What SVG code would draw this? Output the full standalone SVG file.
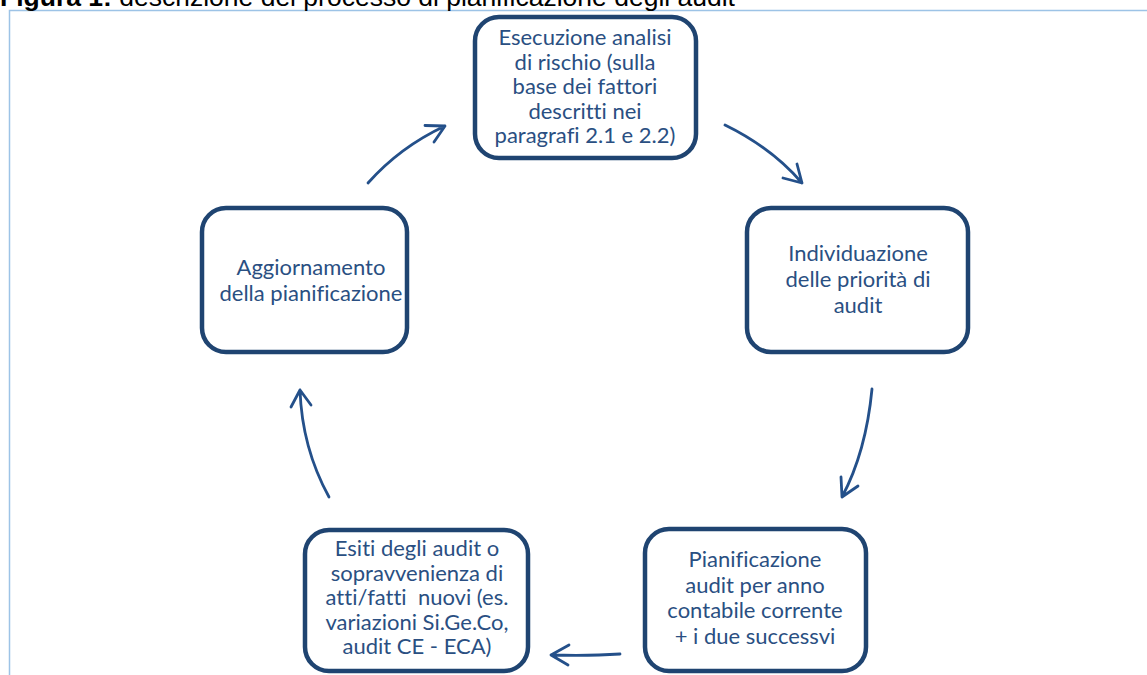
<svg xmlns="http://www.w3.org/2000/svg" width="1147" height="675" viewBox="0 0 1147 675">
<style>
.box{fill:#fff;stroke:#1F4471;stroke-width:4.5}
.t{font-family:Lato,"Open Sans",sans-serif;font-size:22px;fill:#2A4F82;text-anchor:middle;font-variant-ligatures:none}
.c{fill:none;stroke:#24508A;stroke-width:2.8;stroke-linecap:round;stroke-linejoin:round}
.cap{font-family:"Liberation Sans",Arial,sans-serif;font-size:26px;fill:#000}
</style>
<rect width="1147" height="675" fill="#fff"/>
<g id="frame"><path d="M9.5 675V10.5H1147" fill="none" stroke="#9DC3E6" stroke-width="1.5"/></g>
<text class="cap" x="0" y="6" textLength="735" lengthAdjust="spacingAndGlyphs"><tspan font-weight="bold">Figura 1:</tspan> descrizione del processo di pianificazione degli audit</text>
<g id="n1"><rect class="box" x="475" y="17" width="221" height="141" rx="24"/>
<text class="t"><tspan x="585" y="45">Esecuzione analisi</tspan><tspan x="585" y="69.5">di rischio (sulla</tspan><tspan x="585" y="94">base dei fattori</tspan><tspan x="585" y="118.5">descritti nei</tspan><tspan x="585" y="143">paragrafi 2.1 e 2.2)</tspan></text></g>
<g id="n2"><rect class="box" x="747" y="208" width="221" height="144" rx="24"/>
<text class="t"><tspan x="858" y="261">Individuazione</tspan><tspan x="858" y="287">delle priorità di</tspan><tspan x="858" y="313">audit</tspan></text></g>
<g id="n3"><rect class="box" x="645" y="529" width="221" height="142" rx="24"/>
<text class="t"><tspan x="755" y="567">Pianificazione</tspan><tspan x="755" y="592.5">audit per anno</tspan><tspan x="755" y="618">contabile corrente</tspan><tspan x="755" y="643.5">+ i due successvi</tspan></text></g>
<g id="n4"><rect class="box" x="305" y="530" width="223" height="141" rx="24"/>
<text class="t"><tspan x="417" y="556">Esiti degli audit o</tspan><tspan x="417" y="580.5">sopravvenienza di</tspan><tspan x="417" y="605" xml:space="preserve">atti/fatti  nuovi (es.</tspan><tspan x="417" y="629.5">variazioni Si.Ge.Co,</tspan><tspan x="417" y="654">audit CE - ECA)</tspan></text></g>
<g id="n5"><rect class="box" x="202" y="208" width="205" height="144" rx="24"/>
<text class="t"><tspan x="311" y="275">Aggiornamento</tspan><tspan x="311" y="301">della pianificazione</tspan></text></g>
<g id="connectors">
<path class="c" d="M368 183Q400 147 445 126M425 125.5L445 126L434 142"/>
<path class="c" d="M725 125Q772 148 802 183M783 178L802 183L797 164"/>
<path class="c" d="M872 389Q866 452 842 497M841 477L842 497L858 486"/>
<path class="c" d="M620 654Q590 656 551 655M569 645L551 655L568 665"/>
<path class="c" d="M329 497Q302 448 300 390M291 407L300 390L311 405"/>
</g>
</svg>
